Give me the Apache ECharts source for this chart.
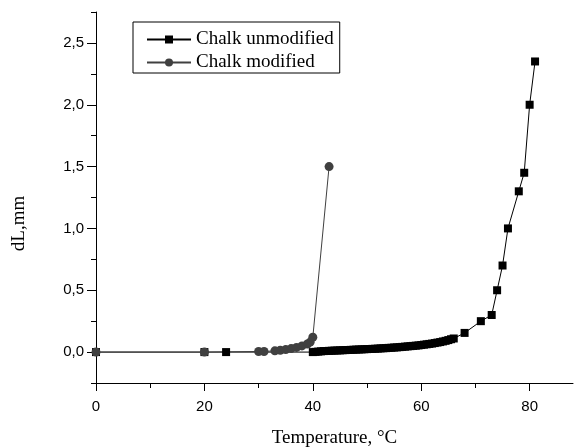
<!DOCTYPE html>
<html>
<head>
<meta charset="utf-8">
<style>
  html, body { margin: 0; padding: 0; background: #fff; }
  #chart { width: 574px; height: 448px; }
</style>
<script src="https://cdn.jsdelivr.net/npm/echarts@6/dist/echarts.min.js"></script>
</head>
<body>
<div id="chart"></div>
<script>
// Chalk unmodified: temperature (°C) and dL (mm)
var unmodT = [0, 20, 24,
  40, 40.5, 41, 41.5, 42, 42.5, 43, 43.5, 44, 44.5, 45, 45.5, 46, 46.5, 47, 47.5,
  48, 48.5, 49, 49.5, 50, 50.5, 51, 51.5, 52, 52.5, 53, 53.5, 54, 54.5, 55, 55.5,
  56, 56.5, 57, 57.5, 58, 58.5, 59, 59.5, 60, 60.5, 61, 61.5, 62, 62.5, 63, 63.5,
  64, 64.5, 65, 65.5, 66,
  68, 71, 73, 74, 75, 76, 78, 79, 80, 81]
var unmodDL = [0, 0, 0,
  0.000, 0.002, 0.004, 0.006, 0.008, 0.009, 0.010, 0.011, 0.012, 0.013, 0.014, 0.015, 0.016, 0.017, 0.018, 0.019,
  0.020, 0.021, 0.022, 0.023, 0.024, 0.025, 0.026, 0.027, 0.028, 0.030, 0.031, 0.032, 0.034, 0.035, 0.037, 0.038,
  0.040, 0.042, 0.044, 0.046, 0.048, 0.050, 0.052, 0.054, 0.057, 0.060, 0.063, 0.066, 0.069, 0.073, 0.077, 0.081,
  0.086, 0.091, 0.097, 0.104, 0.110,
  0.155, 0.25, 0.30, 0.50, 0.70, 1.00, 1.30, 1.45, 2.00, 2.35]

// Chalk modified
var modT = [0, 20, 30, 31, 33, 34, 35, 36, 37, 38, 39, 39.5, 40, 43]
var modDL = [0, 0, 0.005, 0.005, 0.010, 0.015, 0.020, 0.028, 0.038, 0.050, 0.065, 0.080, 0.120, 1.50]

var xMajor = [0, 20, 40, 60, 80]
var xMinor = [10, 30, 50, 70]
var yMajor = [0, 0.5, 1.0, 1.5, 2.0, 2.5]
var yMinor = [-0.25, 0.25, 0.75, 1.25, 1.75, 2.25, 2.75]

function pairs(xs, ys) {
  var out = []
  for (var i = 0; i < xs.length; i++) out.push([xs[i], ys[i]])
  return out
}

var chart = echarts.init(document.getElementById('chart'))
var black = '#000'
var grey = '#404040'
var sans = 'Liberation Sans'
var serif = 'Liberation Serif'

var option = {
  animation: false,
  backgroundColor: '#fff',
  grid: { left: 96, right: 1, top: 12, bottom: 65, containLabel: false, outerBoundsMode: 'none' },
  legend: {
    orient: 'vertical',
    left: 133,
    top: 22,
    padding: [8, 6, 1, 13],
    itemGap: 4,
    itemWidth: 44,
    itemHeight: 10,
    borderColor: black,
    borderWidth: 1,
    borderRadius: 0,
    textStyle: { fontFamily: serif, fontSize: 19, lineHeight: 19, color: black },
    data: ['Chalk unmodified', 'Chalk modified']
  },
  xAxis: [{
    type: 'value',
    min: 0,
    max: 88,
    interval: 10,
    splitLine: { show: false },
    axisLine: { onZero: false, lineStyle: { color: black, width: 1 } },
    axisTick: { inside: false, length: 8, lineStyle: { color: black }, customValues: xMajor },
    axisLabel: { customValues: xMajor, margin: 16, fontFamily: sans, fontSize: 15, color: black },
    name: 'Temperature, °C',
    nameLocation: 'middle',
    nameGap: 46,
    nameTextStyle: { fontFamily: serif, fontSize: 19, color: black }
  }, {
    type: 'value',
    position: 'bottom',
    min: 0,
    max: 88,
    interval: 10,
    splitLine: { show: false },
    axisLine: { show: false, onZero: false },
    axisTick: { length: 5, lineStyle: { color: black }, customValues: xMinor },
    axisLabel: { show: false }
  }],
  yAxis: [{
    type: 'value',
    min: -0.25,
    max: 2.75,
    interval: 0.25,
    splitLine: { show: false },
    axisLine: { show: true, onZero: false, lineStyle: { color: black, width: 1 } },
    axisTick: { show: true, length: 9, lineStyle: { color: black }, customValues: yMajor },
    axisLabel: {
      customValues: yMajor, margin: 12, fontFamily: sans, fontSize: 15, color: black,
      formatter: function (v) { return v.toFixed(1).replace('.', ',') }
    },
    name: 'dL,mm',
    nameLocation: 'middle',
    nameGap: 67,
    nameTextStyle: { fontFamily: serif, fontSize: 19, color: black, padding: [0, 52, 0, 0] }
  }, {
    type: 'value',
    position: 'left',
    min: -0.25,
    max: 2.75,
    interval: 0.25,
    splitLine: { show: false },
    axisLine: { show: false, onZero: false },
    axisTick: { show: true, length: 5, lineStyle: { color: black }, customValues: yMinor },
    axisLabel: { show: false }
  }],
  series: [{
    name: 'Chalk unmodified',
    type: 'line',
    data: pairs(unmodT, unmodDL),
    symbol: 'rect',
    symbolSize: 8,
    showAllSymbol: true,
    color: black,
    itemStyle: { color: black },
    lineStyle: { color: black, width: 1 },
    clip: false
  }, {
    name: 'Chalk modified',
    type: 'line',
    data: pairs(modT, modDL),
    symbol: 'circle',
    symbolSize: 9,
    showAllSymbol: true,
    color: grey,
    itemStyle: { color: grey },
    lineStyle: { color: grey, width: 1 },
    clip: false
  }]
}
chart.setOption(option)
</script>
</body>
</html>
